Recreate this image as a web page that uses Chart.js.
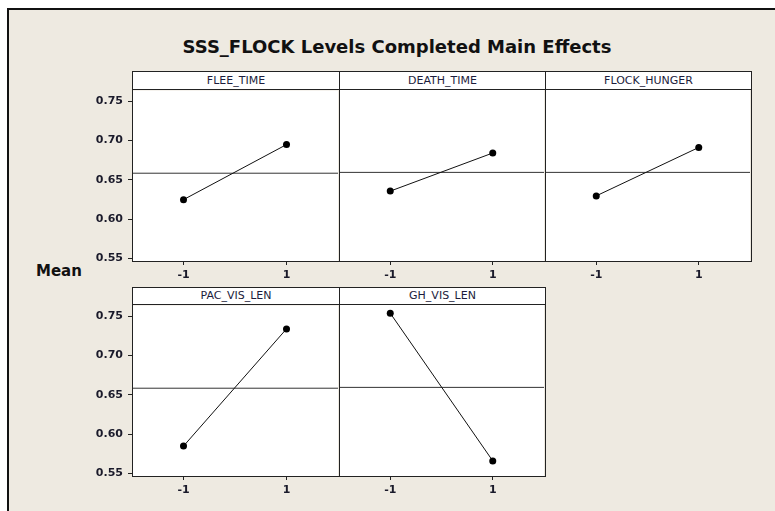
<!DOCTYPE html>
<html>
<head>
<meta charset="utf-8">
<script src="https://cdn.jsdelivr.net/npm/chart.js@4.4.0/dist/chart.umd.min.js"></script>
<style>
  html, body { margin: 0; padding: 0; background: #fff; overflow: hidden; }
  body { width: 775px; height: 511px; position: relative; font-family: 'DejaVu Sans', sans-serif; }
  #frame { position: absolute; left: 7px; top: 8px; width: 770px; height: 505px; background: #eeeae1; border-left: 2px solid #111; border-top: 2px solid #111; }
  #title { position: absolute; left: 0; width: 794px; top: 36px; text-align: center; font: bold 18px 'DejaVu Sans', sans-serif; color: #111; }
  #yLabel { position: absolute; left: 36px; top: 262px; font: bold 15px 'DejaVu Sans', sans-serif; color: #111; }
  .hdr { position: absolute; box-sizing: border-box; background: #fff; border: 1px solid #222; font: 11px 'DejaVu Sans', sans-serif; color: #1c1c3c; text-align: center; }
  .box { position: absolute; box-sizing: border-box; border: 1px solid #222; pointer-events: none; }
  canvas { position: absolute; }
</style>
</head>
<body>
<div id="frame"></div>
<div id="title">SSS_FLOCK Levels Completed Main Effects</div>
<div id="yLabel">Mean</div>

<script>
// ─── DATA ──────────────────────────────────────────────────────────────────────
const factors   = ['FLEE_TIME', 'DEATH_TIME', 'FLOCK_HUNGER', 'PAC_VIS_LEN', 'GH_VIS_LEN'];
const levels    = [-1, 1];
const meanLow   = [0.625, 0.635, 0.629, 0.585, 0.752];  // media en nivel -1
const meanHigh  = [0.695, 0.683, 0.690, 0.734, 0.566];  // media en nivel 1
const grandMean = 0.6586;
const yTicks    = [0.55, 0.60, 0.65, 0.70, 0.75];
const xTicks    = [-1, 1];

// ─── LAYOUT (panel grid, px) ───────────────────────────────────────────────────
const colEdges = [132, 339, 545, 751];
const rows = [
    { hdrTop: 71,  top: 89,  bottom: 261 },
    { hdrTop: 287, top: 304, bottom: 476 }
];
const Y_MIN = 0.547, Y_MAX = 0.7636;
const X_MIN = -2, X_MAX = 2;
const AXIS_W = 50, AXIS_H = 30, PAD_T = 10, PAD_R = 3;

Chart.defaults.font.family = "'DejaVu Sans', sans-serif";
Chart.defaults.animation = false;

// fondo blanco del área de datos
const whiteBg = {
    id: 'whiteBg',
    beforeDraw(chart) {
        const a = chart.chartArea, c = chart.ctx;
        c.save();
        c.fillStyle = '#fff';
        c.fillRect(a.left, a.top, a.right - a.left, a.bottom - a.top);
        c.restore();
    }
};

function addDiv(cls, L, T, W, H, text) {
    const d = document.createElement('div');
    d.className = cls;
    d.style.left = L + 'px';
    d.style.top = T + 'px';
    d.style.width = W + 'px';
    d.style.height = H + 'px';
    if (text) { d.style.lineHeight = (H - 2) + 'px'; d.textContent = text; }
    document.body.appendChild(d);
}

// ─── PANELS ────────────────────────────────────────────────────────────────────
function buildPanel(i) {
    const r = rows[Math.floor(i / 3)];
    const col = i % 3;
    const L = colEdges[col], R = colEdges[col + 1];
    const W = R - L, H = r.bottom - r.top;
    const showY = col === 0;

    const canvas = document.createElement('canvas');
    canvas.width = W + AXIS_W + PAD_R;
    canvas.height = H + PAD_T + AXIS_H;
    canvas.style.left = (L - AXIS_W) + 'px';
    canvas.style.top = (r.top - PAD_T) + 'px';
    document.body.appendChild(canvas);

    // cabecera con el nombre del factor + marco del panel
    addDiv('hdr', L, r.hdrTop, W + 1, r.top - r.hdrTop + 1, factors[i]);
    addDiv('box', L, r.top, W + 1, H + 1);

    new Chart(canvas.getContext('2d'), {
        type: 'line',
        data: {
            datasets: [
                {
                    data: levels.map((lv, k) => ({ x: lv, y: k === 0 ? meanLow[i] : meanHigh[i] })),
                    borderColor: '#111',
                    borderWidth: 1,
                    pointRadius: 3.5,
                    pointBackgroundColor: '#000',
                    pointBorderColor: '#000',
                    pointBorderWidth: 0,
                    tension: 0
                },
                {
                    data: [{ x: X_MIN, y: grandMean }, { x: X_MAX, y: grandMean }],
                    borderColor: '#333',
                    borderWidth: 1,
                    pointRadius: 0
                }
            ]
        },
        options: {
            responsive: false,
            layout: { padding: { top: PAD_T, right: PAD_R, left: showY ? 0 : AXIS_W, bottom: 0 } },
            plugins: { legend: { display: false }, tooltip: { enabled: false } },
            scales: {
                x: {
                    type: 'linear', min: X_MIN, max: X_MAX,
                    afterBuildTicks: s => { s.ticks = xTicks.map(v => ({ value: v })); },
                    afterFit: s => { s.height = AXIS_H; },
                    border: { display: false },
                    grid: { drawOnChartArea: false, tickLength: 4, color: '#222' },
                    ticks: { color: '#1a1a2a', font: { size: 11, weight: 'bold' }, padding: 4,
                             callback: v => String(v) }
                },
                y: {
                    display: showY,
                    min: Y_MIN, max: Y_MAX,
                    afterBuildTicks: s => { s.ticks = yTicks.map(v => ({ value: v })); },
                    afterFit: s => { s.width = showY ? AXIS_W : 0; },
                    border: { display: false },
                    grid: { drawOnChartArea: false, tickLength: 4, color: '#222' },
                    ticks: { color: '#1a1a2a', font: { size: 11, weight: 'bold' }, padding: 5,
                             callback: v => v.toFixed(2) }
                }
            }
        },
        plugins: [whiteBg]
    });
}

factors.forEach((f, i) => buildPanel(i));
</script>
</body>
</html>
